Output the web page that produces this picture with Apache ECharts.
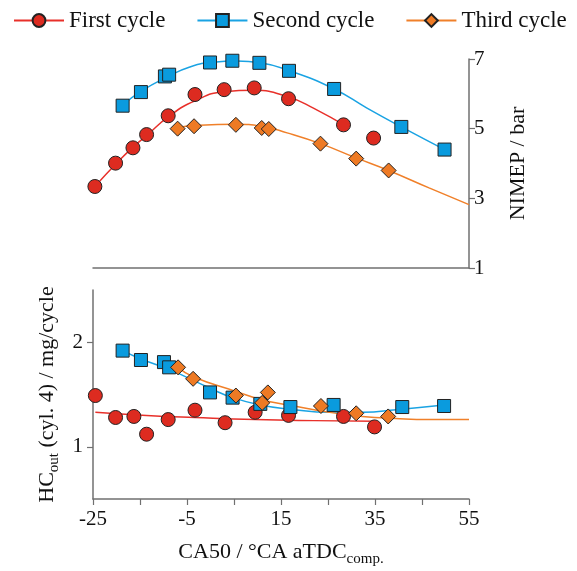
<!DOCTYPE html>
<html>
<head>
<meta charset="utf-8">
<script src="https://cdn.jsdelivr.net/npm/echarts@6/dist/echarts.min.js"></script>
<style>
html, body { margin: 0; padding: 0; background: #fff; }
#main { width: 577px; height: 571px; }
</style>
</head>
<body>
<div id="main"></div>
<script>
var dom = document.getElementById('main');
var myChart = echarts.init(dom);

var names = ['First cycle', 'Second cycle', 'Third cycle'];
var colors = ['#DD2B20', '#0A9BDE', '#EE7A24'];
var lineColors = ['#E8302A', '#1AA3E3', '#F0802A'];
var symbols = ['circle', 'rect', 'diamond'];

// NIMEP measured points [CA50, NIMEP]
var nimep1 = [[-24.6, 3.34], [-20.2, 4.01], [-16.5, 4.45], [-13.6, 4.83], [-9.0, 5.37], [-3.3, 5.98],
    [2.9, 6.12], [9.3, 6.17], [16.6, 5.86], [28.3, 5.11], [34.7, 4.73]];
var nimep2 = [[-18.7, 5.66], [-14.8, 6.05], [-9.7, 6.50], [-8.8, 6.55], [-0.1, 6.90], [4.65, 6.95],
    [10.4, 6.89], [16.7, 6.66], [26.3, 6.14], [40.6, 5.05], [49.8, 4.40]];
var nimep3 = [[-7.0, 5.00], [-3.5, 5.07], [5.4, 5.11], [10.9, 5.02], [12.4, 4.99], [23.4, 4.57],
    [31.0, 4.14], [37.9, 3.80]];

// NIMEP fit curves
var nimepFit1 = [[-24.6, 3.34], [-20.1, 3.99], [-16.5, 4.47], [-13.6, 4.80], [-9.0, 5.34], [-3.3, 5.80],
    [2.9, 6.06], [9.3, 6.10], [16.6, 5.91], [21.9, 5.59], [29.1, 5.05]];
var nimepFit2 = [[-18.7, 5.68], [-14.8, 6.07], [-9.3, 6.48], [-4.4, 6.77], [0.6, 6.91], [5.6, 6.94],
    [10.6, 6.89], [16.7, 6.67], [26.3, 6.14], [33.3, 5.59], [40.6, 5.05], [49.8, 4.40]];
var nimepFit3 = [[-7.0, 5.03], [-3.5, 5.09], [5.4, 5.13], [10.9, 5.07], [16.3, 4.88], [23.4, 4.57],
    [31.0, 4.16], [37.9, 3.80], [46.5, 3.30], [55, 2.82]];

// HC measured points [CA50, HC]
var hc1 = [[-24.5, 1.49], [-20.2, 1.28], [-16.3, 1.29], [-13.6, 1.12], [-9.0, 1.26], [-3.3, 1.35],
    [3.1, 1.23], [9.5, 1.33], [16.6, 1.30], [28.3, 1.29], [34.9, 1.19]];
var hc2 = [[-18.7, 1.92], [-14.8, 1.83], [-9.9, 1.81], [-8.8, 1.76], [-0.1, 1.52], [4.7, 1.47],
    [10.6, 1.41], [17.0, 1.38], [26.2, 1.40], [40.8, 1.38], [49.7, 1.39]];
var hc3 = [[-6.9, 1.76], [-3.7, 1.65], [5.4, 1.49], [11.0, 1.42], [12.2, 1.52], [23.5, 1.39],
    [31.0, 1.32], [37.8, 1.29]];

// HC fit curves
var hcFit1 = [[-24.5, 1.33], [-13.6, 1.30], [-3.3, 1.28], [9.5, 1.26], [22, 1.25], [35, 1.245]];
var hcFit2 = [[-18.7, 1.92], [-14.8, 1.84], [-8.8, 1.74], [-0.1, 1.56], [4.7, 1.47], [10.6, 1.40],
    [17.0, 1.36], [25.5, 1.33], [32.5, 1.33], [39.5, 1.355], [49.7, 1.40]];
var hcFit3 = [[-6.9, 1.76], [-3.7, 1.67], [5.4, 1.53], [10.9, 1.45], [16.6, 1.40], [25.2, 1.33],
    [32.3, 1.29], [39.4, 1.27], [46.5, 1.26], [55, 1.26]];

var xTickMin = -25, xTickMax = 55, xStep = 10;

var font = 'Liberation Serif';
var axisGray = '#707070';

var nimepSets = [nimep1, nimep2, nimep3];
var nimepFits = [nimepFit1, nimepFit2, nimepFit3];
var hcSets = [hc1, hc2, hc3];
var hcFits = [hcFit1, hcFit2, hcFit3];

var series = [];
// fit lines first (legend icon taken from them)
for (var i = 0; i < 3; i++) {
    series.push({
        name: names[i], type: 'line', xAxisIndex: 0, yAxisIndex: 0,
        data: nimepFits[i], smooth: 0.5, showSymbol: false, symbol: symbols[i],
        lineStyle: { color: lineColors[i], width: 1.5 },
        itemStyle: { color: colors[i], borderColor: '#222', borderWidth: 1 },
        silent: true, z: 2
    });
    series.push({
        name: names[i], type: 'line', xAxisIndex: 1, yAxisIndex: 1,
        data: hcFits[i], smooth: 0.5, showSymbol: false, symbol: symbols[i],
        lineStyle: { color: lineColors[i], width: 1.5 },
        itemStyle: { color: colors[i], borderColor: '#222', borderWidth: 1 },
        silent: true, z: 2
    });
}
for (var j = 0; j < 3; j++) {
    var size = j === 0 ? 14 : (j === 1 ? 13 : 15);
    series.push({
        name: names[j], type: 'scatter', xAxisIndex: 0, yAxisIndex: 0,
        data: nimepSets[j], symbol: symbols[j], symbolSize: size,
        itemStyle: { color: colors[j], borderColor: '#222', borderWidth: 1, opacity: 1 }, z: 3
    });
    series.push({
        name: names[j], type: 'scatter', xAxisIndex: 1, yAxisIndex: 1,
        data: hcSets[j], symbol: symbols[j], symbolSize: size,
        itemStyle: { color: colors[j], borderColor: '#222', borderWidth: 1, opacity: 1 }, z: 3
    });
}

var option = {
    animation: false,
    backgroundColor: '#fff',
    textStyle: { fontFamily: font },
    legend: {
        data: names,
        left: 8, top: 4,
        itemWidth: 50, itemHeight: 16, itemGap: 31,
        textStyle: { fontFamily: font, fontSize: 23, color: '#111' }
    },
    grid: [
        { left: 93, right: 108, top: 59, height: 209 },
        { left: 93, right: 108, top: 290, height: 209 }
    ],
    xAxis: [
        {
            gridIndex: 0, type: 'value', min: xTickMin, max: xTickMax, interval: xStep,
            axisLine: { show: true, onZero: false, lineStyle: { color: axisGray, width: 1.5 } },
            axisTick: { show: false }, axisLabel: { show: false }, splitLine: { show: false }
        },
        {
            gridIndex: 1, type: 'value', min: xTickMin, max: xTickMax, interval: xStep,
            axisLine: { show: true, onZero: false, lineStyle: { color: axisGray, width: 1.5 } },
            axisTick: { show: true, length: 6, lineStyle: { color: axisGray, width: 1.2 } },
            axisLabel: {
                interval: 1, color: '#111', fontFamily: font, fontSize: 21, margin: 10,
                formatter: function (v) { return ((v - xTickMin) % 20 === 0) ? String(v) : ''; }
            },
            splitLine: { show: false },
            name: '{a|CA50 / °CA aTDC}{b|comp.}',
            nameLocation: 'middle', nameGap: 41,
            nameTextStyle: {
                rich: {
                    a: { fontFamily: font, fontSize: 22, color: '#111', lineHeight: 24 },
                    b: { fontFamily: font, fontSize: 15, color: '#111', lineHeight: 15, padding: [14, 0, 0, 0] }
                }
            }
        }
    ],
    yAxis: [
        {
            gridIndex: 0, type: 'value', position: 'right', min: 1, max: 7, interval: 2,
            axisLine: { show: true, onZero: false, lineStyle: { color: axisGray, width: 1.5 } },
            axisTick: { show: true, length: 6, lineStyle: { color: axisGray, width: 1.2 } },
            axisLabel: { color: '#111', fontFamily: font, fontSize: 21, margin: 5 },
            splitLine: { show: false },
            name: 'NIMEP / bar', nameLocation: 'middle', nameGap: 38,
            nameTextStyle: { fontFamily: font, fontSize: 22, color: '#111' }
        },
        {
            gridIndex: 1, type: 'value', position: 'left', min: 0.5, max: 2.5,
            axisLine: { show: true, onZero: false, lineStyle: { color: axisGray, width: 1.5 } },
            axisTick: { show: true, length: 6, customValues: [1, 2], lineStyle: { color: axisGray, width: 1.2 } },
            axisLabel: { customValues: [1, 2], color: '#111', fontFamily: font, fontSize: 21, margin: 10 },
            splitLine: { show: false },
            name: '{a|HC}{b|out}{a| (cyl. 4) / mg/cycle}',
            nameLocation: 'middle', nameGap: 33,
            nameTextStyle: {
                rich: {
                    a: { fontFamily: font, fontSize: 22, color: '#111', lineHeight: 24 },
                    b: { fontFamily: font, fontSize: 15, color: '#111', lineHeight: 15, padding: [14, 0, 0, 0] }
                }
            }
        }
    ],
    series: series
};

myChart.setOption(option, true);
</script>
</body>
</html>
